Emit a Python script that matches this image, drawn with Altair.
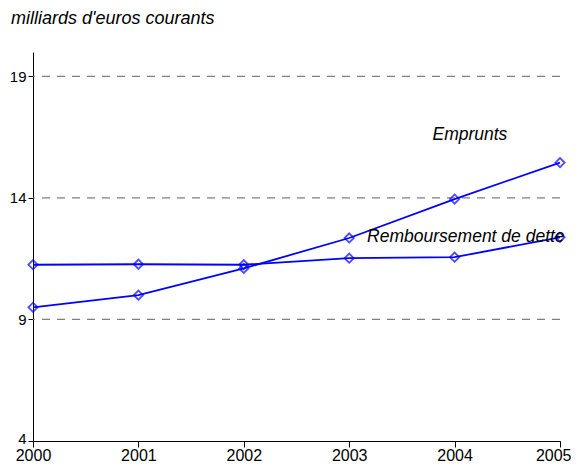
import altair as alt
import pandas as pd

years = [2000, 2001, 2002, 2003, 2004, 2005]
emprunts = [9.5, 10.0, 11.1, 12.35, 13.95, 15.45]
remboursement = [11.25, 11.27, 11.25, 11.52, 11.56, 12.38]

label_texts = ["Emprunts", "Remboursement de dette"]
label_x = [2003.79, 2003.17]
label_y = [16.39, 12.18]

rows = []
for s, vals in [("Emprunts", emprunts), ("Remboursement de dette", remboursement)]:
    for yr, v in zip(years, vals):
        rows.append({"annee": yr, "valeur": v, "serie": s})
df = pd.DataFrame(rows)
labels = pd.DataFrame({"txt": label_texts, "annee": label_x, "valeur": label_y})

font = "Liberation Sans"

xs = alt.Scale(domain=[2000, 2005], nice=False, zero=False)
ys = alt.Scale(domain=[4, 20], nice=False, zero=False)

base = alt.Chart(df)

grid = alt.Chart(pd.DataFrame({"g": [9, 14, 19]})).mark_rule(
    color="#808080", strokeDash=[8, 7], strokeWidth=1.2
).encode(y=alt.Y("g:Q", scale=ys))

lines = base.mark_line(color="#0000FF", strokeWidth=1.8).encode(
    x=alt.X("annee:Q", scale=xs,
            axis=alt.Axis(values=years, format="d", title=None, grid=False,
                          domainColor="black", tickColor="black", tickSize=6,
                          labelFont=font, labelFontSize=16, labelColor="black",
                          labelPadding=0,
                          labelAlign={"condition": {"test": "datum.value === 2005", "value": "right"},
                                      "value": "center"},
                          labelOffset={"condition": {"test": "datum.value === 2005", "value": 11},
                                       "value": 0})),
    y=alt.Y("valeur:Q", scale=ys,
            axis=alt.Axis(values=[4, 9, 14, 19], title=None, grid=False,
                          domainColor="black", tickColor="black", tickSize=5,
                          labelFont=font, labelFontSize=15, labelColor="black",
                          labelPadding=2,
                          labelOffset={"condition": {"test": "datum.value === 4", "value": -3},
                                       "value": 0})),
    detail="serie:N",
)

points = base.mark_point(shape="diamond", color="#0000FF", filled=False,
                         size=85, strokeWidth=1.8).encode(
    x=alt.X("annee:Q", scale=xs),
    y=alt.Y("valeur:Q", scale=ys),
)

texts = alt.Chart(labels).mark_text(
    align="left", baseline="alphabetic", font=font, fontSize=17.5,
    fontStyle="italic", color="black"
).encode(
    x=alt.X("annee:Q", scale=xs),
    y=alt.Y("valeur:Q", scale=ys),
    text="txt:N",
)

chart = alt.layer(grid, lines, points, texts).properties(
    width=527, height=389,
    title=alt.TitleParams("milliards d'euros courants", anchor="start", frame="group",
                          dx=-22, offset=24, font=font, fontSize=18,
                          fontStyle="italic", fontWeight="normal", color="black"),
    autosize=alt.AutoSizeParams(type="none"),
    padding={"left": 25, "top": 44, "right": 11, "bottom": 22},
).configure_view(stroke=None)

chart.save("out.html", embed_options={"renderer": "svg", "actions": False})
